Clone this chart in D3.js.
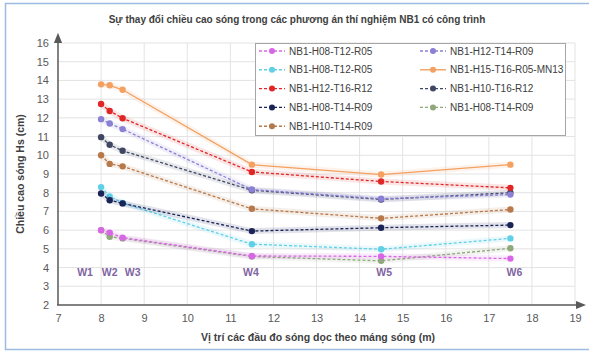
<!DOCTYPE html>
<html>
<head>
<meta charset="utf-8">
<script src="https://cdn.jsdelivr.net/npm/d3@7"></script>
<style>
  body { margin: 0; background: #fff; }
  text { font-family: "Liberation Sans", Arial, sans-serif; }
</style>
</head>
<body>
<div id="chart"></div>
<script>
// positions of the gauges along the flume (m)
var positions = [8, 8.2, 8.5, 11.5, 14.5, 17.5];
var gaugeNames = ["W1", "W2", "W3", "W4", "W5", "W6"];
var xTicks = [7, 8, 9, 10, 11, 12, 13, 14, 15, 16, 17, 18, 19];
var yTicks = [2, 3, 4, 5, 6, 7, 8, 9, 10, 11, 12, 13, 14, 15, 16];

var seriesNames = [
  "NB1-H08-T12-R05", "NB1-H08-T12-R05", "NB1-H12-T16-R12", "NB1-H08-T14-R09", "NB1-H10-T14-R09",
  "NB1-H12-T14-R09", "NB1-H15-T16-R05-MN13", "NB1-H10-T16-R12", "NB1-H08-T14-R09"
];
var h08T12R05a = [6.0, 5.87, 5.6, 4.62, 4.6, 4.48];
var h08T12R05b = [8.3, 7.8, 7.45, 5.25, 4.98, 5.56];
var h12T16R12 = [12.74, 12.37, 11.98, 9.11, 8.6, 8.26];
var h08T14R09a = [7.96, 7.6, 7.43, 5.95, 6.13, 6.27];
var h10T14R09 = [10.0, 9.54, 9.41, 7.14, 6.63, 7.1];
var h12T14R09 = [11.93, 11.7, 11.4, 8.17, 7.68, 7.9];
var h15T16R05MN13 = [13.79, 13.74, 13.5, 9.5, 8.97, 9.5];
var h10T16R12 = [10.97, 10.56, 10.24, 8.13, 7.64, 8.0];
var h08T14R09b = [6.0, 5.65, 5.56, 4.59, 4.36, 5.03];

var allValues = [h08T12R05a, h08T12R05b, h12T16R12, h08T14R09a, h10T14R09,
                 h12T14R09, h15T16R05MN13, h10T16R12, h08T14R09b];
var colors = ["#d966e6", "#5fd0e6", "#e02626", "#1a2457", "#b7784a",
              "#8a80d4", "#f3a060", "#3f4763", "#8fa87c"];

var width = 589, height = 353;
var margin = { top: 43, right: 14, bottom: 47, left: 57 };

var svg = d3.select("#chart").append("svg")
  .attr("width", width)
  .attr("height", height);

// outer frame
svg.append("rect")
  .attr("x", 5.5).attr("y", 3.5)
  .attr("width", 600).attr("height", 346)
  .attr("fill", "#fff")
  .attr("stroke", "#9dbbe0")
  .attr("stroke-width", 1.5);

var xScale = d3.scaleLinear().domain([7, 19]).range([margin.left + 1, 575]);
var yScale = d3.scaleLinear().domain([2, 16]).range([305, 43]);

var defs = svg.append("defs");
defs.append("marker")
  .attr("id", "arrow")
  .attr("viewBox", "0 0 10 10")
  .attr("refX", 5).attr("refY", 5)
  .attr("markerWidth", 7).attr("markerHeight", 7)
  .attr("orient", "auto")
  .append("path")
  .attr("d", "M0,1 L10,5 L0,9 z")
  .attr("fill", "#595959");

// grid
svg.append("g")
  .selectAll("line")
  .data(yTicks.slice(1))
  .enter().append("line")
  .attr("x1", xScale(7)).attr("x2", xScale(19))
  .attr("y1", function (d) { return yScale(d); })
  .attr("y2", function (d) { return yScale(d); })
  .attr("stroke", "#e3e3e3");
svg.append("g")
  .selectAll("line")
  .data(xTicks.slice(1))
  .enter().append("line")
  .attr("y1", yScale(2)).attr("y2", yScale(16))
  .attr("x1", function (d) { return xScale(d); })
  .attr("x2", function (d) { return xScale(d); })
  .attr("stroke", "#e3e3e3");

// axes
var xAxis = svg.append("g")
  .attr("transform", "translate(0," + yScale(2) + ")")
  .call(d3.axisBottom(xScale).tickValues(xTicks).tickSize(0).tickPadding(9));
xAxis.select(".domain").remove();
var yAxis = svg.append("g")
  .attr("transform", "translate(" + (margin.left - 1) + ",0)")
  .call(d3.axisLeft(yScale).tickValues(yTicks).tickSize(0).tickPadding(7));
yAxis.select(".domain").remove();
svg.selectAll(".tick text")
  .attr("font-size", 11)
  .attr("fill", "#595959")
  .attr("font-family", "Liberation Sans, Arial, sans-serif");

svg.append("line")
  .attr("x1", xScale(7) - 1).attr("x2", 581)
  .attr("y1", yScale(2)).attr("y2", yScale(2))
  .attr("stroke", "#595959").attr("stroke-width", 1.5)
  .attr("marker-end", "url(#arrow)");
svg.append("line")
  .attr("x1", xScale(7)).attr("x2", xScale(7))
  .attr("y1", yScale(2)).attr("y2", 38)
  .attr("stroke", "#595959").attr("stroke-width", 1.5)
  .attr("marker-end", "url(#arrow)");

// gauge labels (small horizontal nudges so W1-W3 do not overlap)
var labelShift = [-16, 0, 10, -1, 3, 4];
svg.append("g")
  .selectAll("text")
  .data(positions)
  .enter().append("text")
  .attr("x", function (d, i) { return xScale(d) + labelShift[i]; })
  .attr("y", yScale(3.55))
  .attr("text-anchor", "middle")
  .attr("font-size", 10.5)
  .attr("font-weight", "bold")
  .attr("fill", "#8064a2")
  .text(function (d, i) { return gaugeNames[i]; });

// series
var line = d3.line()
  .x(function (d, i) { return xScale(positions[i]); })
  .y(function (d) { return yScale(d); });

var drawOrder = [8, 0, 1, 3, 4, 7, 5, 2, 6];
drawOrder.forEach(function (k) {
  var g = svg.append("g");
  g.append("path")
    .datum(allValues[k])
    .attr("d", line)
    .attr("fill", "none")
    .attr("stroke", colors[k])
    .attr("stroke-opacity", 0.12)
    .attr("stroke-width", 6);
  g.append("path")
    .datum(allValues[k])
    .attr("d", line)
    .attr("fill", "none")
    .attr("stroke", colors[k])
    .attr("stroke-width", 1.3)
    .attr("stroke-dasharray", k === 6 ? null : "3,2");
  g.selectAll("circle")
    .data(allValues[k])
    .enter().append("circle")
    .attr("cx", function (d, i) { return xScale(positions[i]); })
    .attr("cy", function (d) { return yScale(d); })
    .attr("r", 3.2)
    .attr("fill", colors[k]);
});

// legend
var legend = svg.append("g");
legend.append("rect")
  .attr("x", 255.5).attr("y", 43.5)
  .attr("width", 310).attr("height", 92)
  .attr("fill", "#fff")
  .attr("stroke", "#a6a6a6");
var legendItems = legend.selectAll("g")
  .data(seriesNames)
  .enter().append("g")
  .attr("transform", function (d, i) {
    var col = i < 5 ? 0 : 1;
    var row = i < 5 ? i : i - 5;
    return "translate(" + (col === 0 ? 259 : 420) + "," + (51 + row * 18.8) + ")";
  });
legendItems.append("line")
  .attr("x1", 0).attr("x2", 26)
  .attr("stroke", function (d, i) { return colors[i]; })
  .attr("stroke-width", 1.4)
  .attr("stroke-dasharray", function (d, i) { return i === 6 ? null : "3,2"; });
legendItems.append("circle")
  .attr("cx", 13).attr("r", 3)
  .attr("fill", function (d, i) { return colors[i]; });
legendItems.append("text")
  .attr("x", 30).attr("y", 3.5)
  .attr("font-size", 10)
  .attr("fill", "#404040")
  .text(function (d) { return d; });

// titles
svg.append("text")
  .attr("x", 297).attr("y", 23)
  .attr("text-anchor", "middle")
  .attr("font-size", 10)
  .attr("font-weight", "bold")
  .attr("fill", "#404040")
  .text("Sự thay đổi chiều cao sóng trong các phương án thí nghiệm NB1 có công trình");
svg.append("text")
  .attr("transform", "translate(24," + yScale(9) + ") rotate(-90)")
  .attr("text-anchor", "middle")
  .attr("font-size", 10.5)
  .attr("font-weight", "bold")
  .attr("fill", "#404040")
  .text("Chiều cao sóng Hs (cm)");
svg.append("text")
  .attr("x", 318).attr("y", 341)
  .attr("text-anchor", "middle")
  .attr("font-size", 10.5)
  .attr("font-weight", "bold")
  .attr("fill", "#404040")
  .text("Vị trí các đầu đo sóng dọc theo máng sóng (m)");
</script>
</body>
</html>
